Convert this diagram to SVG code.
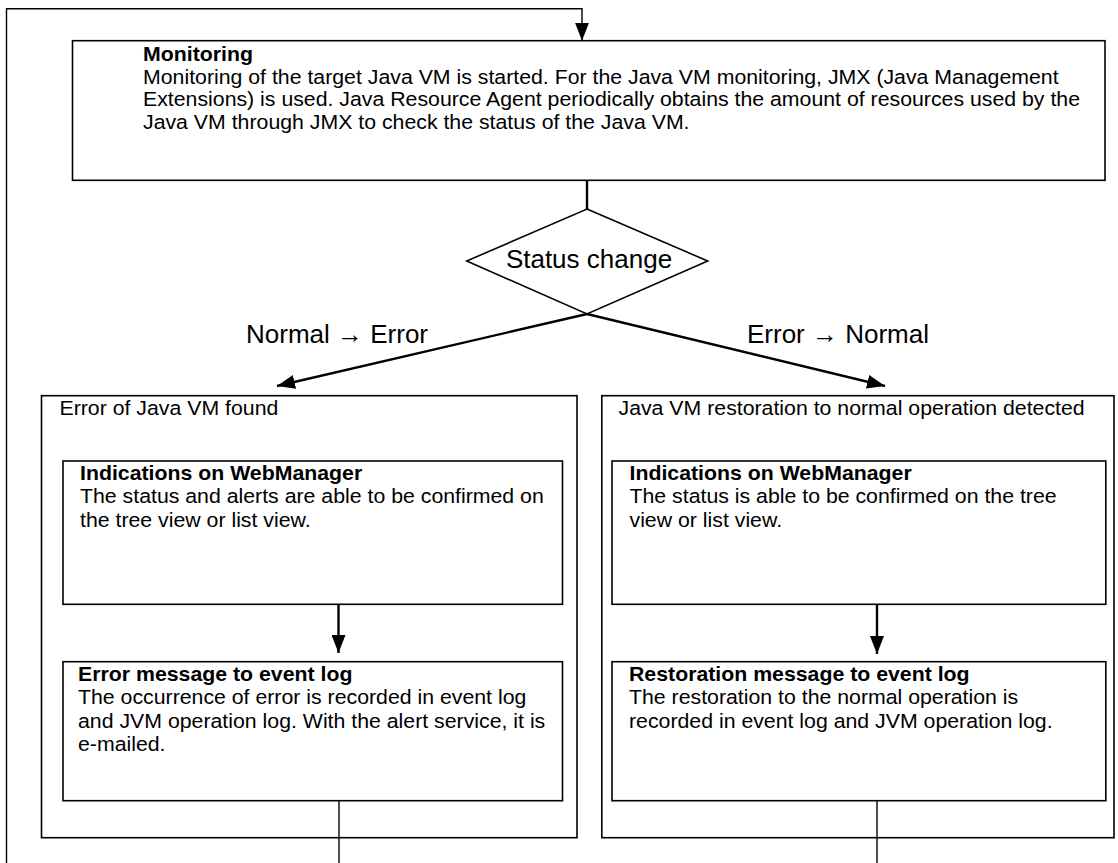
<svg xmlns="http://www.w3.org/2000/svg" width="1118" height="863" viewBox="0 0 1118 863">
<style>
.box{fill:#fff;stroke:#000;stroke-width:1.6}
.t{font-family:"Liberation Sans",Arial,sans-serif;font-size:19.5px;fill:#000}
.b{font-weight:bold}
.lbl{font-family:"Liberation Sans",Arial,sans-serif;font-size:26px;fill:#000}
.c{fill:none;stroke:#000;stroke-width:2.4}
.thin{fill:none;stroke:#000;stroke-width:1.4}
</style>
<defs>
<marker id="ah" viewBox="0 0 18 14" refX="18" refY="7" markerWidth="18" markerHeight="14" markerUnits="userSpaceOnUse" orient="auto">
<path d="M0,0 L18,7 L0,14 z" fill="#000"/>
</marker>
</defs>
<rect width="1118" height="863" fill="#fff"/>

<g id="monitoring">
<rect class="box" x="72.5" y="40.7" width="1032.5" height="139.6"/>
<g transform="translate(143,0) scale(1.092,1)">
<text class="t b" x="0" y="61">Monitoring</text>
<text class="t" x="0" y="84">Monitoring of the target Java VM is started. For the Java VM monitoring, JMX (Java Management</text>
<text class="t" x="0" y="106.5">Extensions) is used. Java Resource Agent periodically obtains the amount of resources used by the</text>
<text class="t" x="0" y="129">Java VM through JMX to check the status of the Java VM.</text>
</g>
</g>

<g id="status-change">
<polygon class="box" points="587,209 707.7,261 587,314 466.7,261"/>
<text class="lbl" x="589" y="268" text-anchor="middle">Status change</text>
</g>

<g id="error-found">
<rect class="box" x="41.5" y="395.7" width="535.5" height="442"/>
<g transform="translate(59.5,0) scale(1.092,1)">
<text class="t" x="0" y="415">Error of Java VM found</text>
</g>
</g>

<g id="error-webmanager">
<rect class="box" x="63" y="461" width="499.5" height="143.3"/>
<g transform="translate(80,0) scale(1.092,1)">
<text class="t b" x="0" y="480">Indications on WebManager</text>
<text class="t" x="0" y="503.5">The status and alerts are able to be confirmed on</text>
<text class="t" x="0" y="527">the tree view or list view.</text>
</g>
</g>

<g id="error-eventlog">
<rect class="box" x="63" y="661.7" width="499.5" height="139"/>
<g transform="translate(78,0) scale(1.092,1)">
<text class="t b" x="0" y="681">Error message to event log</text>
<text class="t" x="0" y="704.5">The occurrence of error is recorded in event log</text>
<text class="t" x="0" y="728">and JVM operation log. With the alert service, it is</text>
<text class="t" x="0" y="751.5">e-mailed.</text>
</g>
</g>

<g id="restoration-detected">
<rect class="box" x="601.8" y="395.7" width="512.2" height="442"/>
<g transform="translate(618.5,0) scale(1.092,1)">
<text class="t" x="0" y="415">Java VM restoration to normal operation detected</text>
</g>
</g>

<g id="restoration-webmanager">
<rect class="box" x="612" y="461" width="493.8" height="143.3"/>
<g transform="translate(629.5,0) scale(1.092,1)">
<text class="t b" x="0" y="480">Indications on WebManager</text>
<text class="t" x="0" y="503.5">The status is able to be confirmed on the tree</text>
<text class="t" x="0" y="527">view or list view.</text>
</g>
</g>

<g id="restoration-eventlog">
<rect class="box" x="612" y="661.7" width="493.8" height="139"/>
<g transform="translate(629,0) scale(1.092,1)">
<text class="t b" x="0" y="681">Restoration message to event log</text>
<text class="t" x="0" y="704.5">The restoration to the normal operation is</text>
<text class="t" x="0" y="728">recorded in event log and JVM operation log.</text>
</g>
</g>

<g id="connectors">
<path class="thin" d="M6.5,863 V8.7 H582 V40.7" marker-end="url(#ah)"/>
<line class="c" x1="587" y1="180.3" x2="587" y2="209"/>
<line class="c" x1="587" y1="314" x2="277" y2="386" marker-end="url(#ah)"/>
<line class="c" x1="587" y1="314" x2="885" y2="386" marker-end="url(#ah)"/>
<text class="lbl" x="246" y="343">Normal → Error</text>
<text class="lbl" x="747" y="343">Error → Normal</text>
<line class="c" x1="338.5" y1="604.3" x2="338.5" y2="653" marker-end="url(#ah)"/>
<line class="c" x1="877" y1="604.3" x2="877" y2="654" marker-end="url(#ah)"/>
<line class="thin" x1="339" y1="800.7" x2="339" y2="863"/>
<line class="thin" x1="877" y1="800.7" x2="877" y2="863"/>
</g>
</svg>
